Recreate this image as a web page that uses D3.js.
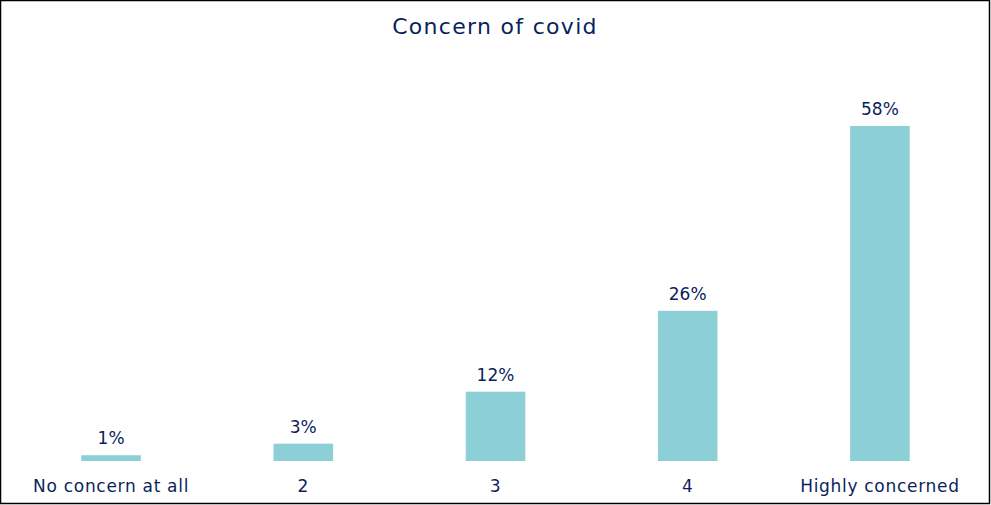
<!DOCTYPE html>
<meta charset="utf-8">
<style>
body { margin: 0; background: #fff; }
text { font-family: "Century Gothic", "DejaVu Sans", sans-serif; fill: #0b1f5e; }
</style>
<svg width="991" height="505"></svg>
<script src="https://d3js.org/d3.v7.min.js"></script>
<script>

var categories = ["No concern at all", "2", "3", "4", "Highly concerned"];
var values = [1, 3, 12, 26, 58];
var title = "Concern of covid";

var svg = d3.select("svg"),
    width = +svg.attr("width"),
    height = +svg.attr("height");

svg.append("rect")
    .attr("x", 0.5).attr("y", 0.5)
    .attr("width", width - 2).attr("height", height - 2)
    .attr("fill", "#fff")
    .attr("stroke", "#000")
    .attr("stroke-width", 1.5);

var x = d3.scaleBand()
    .domain(categories)
    .range([15, 976])
    .paddingInner(0.69)
    .paddingOuter(0.345);

var y = d3.scaleLinear()
    .domain([0, 58])
    .range([461, 126]);

svg.append("text")
    .attr("x", 495)
    .attr("y", 34)
    .attr("text-anchor", "middle")
    .attr("font-size", 22)
    .attr("letter-spacing", 1.3)
    .text(title);

var bars = svg.append("g").selectAll("g")
    .data(values)
    .enter().append("g");

bars.append("rect")
    .attr("x", function(d, i) { return x(categories[i]); })
    .attr("y", function(d) { return y(d); })
    .attr("width", x.bandwidth())
    .attr("height", function(d) { return y(0) - y(d); })
    .attr("fill", "#8ccfd7");

bars.append("text")
    .attr("x", function(d, i) { return x(categories[i]) + x.bandwidth() / 2; })
    .attr("y", function(d) { return y(d) - 11; })
    .attr("text-anchor", "middle")
    .attr("font-size", 17)
    .text(function(d) { return d + "%"; });

// category axis, no line or ticks
var axis = svg.append("g")
    .attr("transform", "translate(0," + y(0) + ")")
    .call(d3.axisBottom(x).tickSize(0).tickPadding(19));
axis.select(".domain").remove();
axis.selectAll("text")
    .attr("font-size", 17)
    .attr("letter-spacing", 0.7)
    .attr("fill", "#0b1f5e")
    .style("font-family", "\"Century Gothic\", \"DejaVu Sans\", sans-serif");

</script>
